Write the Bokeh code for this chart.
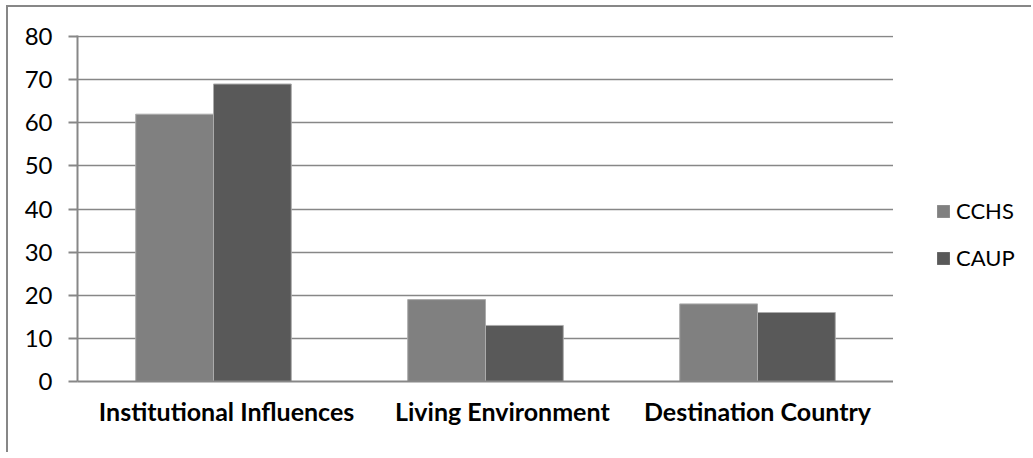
from bokeh.plotting import figure
from bokeh.layouts import row
from bokeh.models import Range1d, Legend, LegendItem, FixedTicker, ColumnDataSource
from bokeh.transform import dodge
from bokeh.embed import file_html
from bokeh.resources import INLINE

# Share of responses per influence category, by school
categories = ["Institutional Influences", "Living Environment", "Destination Country"]
cchs = [62, 19, 18]
caup = [69, 13, 16]
series_names = ["CCHS", "CAUP"]
series_colors = ["#808080", "#595959"]
y_ticks = [0, 10, 20, 30, 40, 50, 60, 70, 80]

FONT = "Lato"
GRID = "#878787"
EDGE = "#ababab"

# one unit-wide slot per category, bars centred in their slot
slots = [i + 0.5 for i in range(len(categories))]
source = ColumnDataSource(dict(slot=slots, cat=categories, cchs=cchs, caup=caup))

H = 445

p = figure(
    width=885, height=H,
    x_range=Range1d(0, len(categories)),
    y_range=Range1d(0, 80.25),
    output_backend="svg", toolbar_location=None,
    min_border_left=69, min_border_right=0,
    min_border_top=28, min_border_bottom=H - 374,
)
p.outline_line_color = None
p.background_fill_color = "white"
p.border_fill_color = "white"

bar_w = 0.286
p.vbar(x=dodge("slot", -bar_w / 2), top="cchs", width=bar_w,
       source=source, fill_color=series_colors[0], line_color=EDGE, line_width=1)
p.vbar(x=dodge("slot", bar_w / 2), top="caup", width=bar_w,
       source=source, fill_color=series_colors[1], line_color=EDGE, line_width=1)

# y axis
ya = p.yaxis[0]
ya.ticker = FixedTicker(ticks=y_ticks)
ya.axis_line_color = GRID
ya.axis_line_width = 2
ya.major_tick_line_color = GRID
ya.major_tick_line_width = 2
ya.major_tick_out = 9
ya.major_tick_in = 0
ya.minor_tick_line_color = None
ya.major_label_standoff = 16
ya.major_label_text_font = FONT
ya.major_label_text_font_size = "24px"
ya.major_label_text_color = "black"

# category axis: label positions within each slot
label_pos = [0.548, 1.562, 2.5]
xa = p.xaxis[0]
xa.ticker = FixedTicker(ticks=label_pos)
xa.major_label_overrides = {pos: name for pos, name in zip(label_pos, categories)}
xa.axis_line_color = GRID
xa.axis_line_width = 2
xa.major_tick_line_color = None
xa.minor_tick_line_color = None
xa.major_tick_out = 0
xa.major_label_standoff = 14
xa.major_label_text_font = FONT
xa.major_label_text_font_style = "bold"
xa.major_label_text_font_size = "25px"
xa.major_label_text_color = "black"

p.xgrid.grid_line_color = None
p.ygrid.ticker = FixedTicker(ticks=y_ticks)
p.ygrid.grid_line_color = GRID
p.ygrid.grid_line_width = 1.5

# legend strip to the right of the plot
leg = figure(
    width=138, height=H,
    x_range=Range1d(0, 1), y_range=Range1d(0, 1),
    output_backend="svg", toolbar_location=None,
    min_border=0,
)
leg.axis.visible = False
leg.grid.visible = False
leg.outline_line_color = None
leg.background_fill_color = "white"
leg.border_fill_color = "white"
# swatch renderers sit outside the strip's visible range; only their legend boxes show
swatches = [leg.vbar(x=[5], top=[5], width=1, fill_color=c, line_color=None)
            for c in series_colors]

legend = Legend(
    items=[LegendItem(label=n, renderers=[r]) for n, r in zip(series_names, swatches)],
    location=(42, 110),
    glyph_width=16, glyph_height=16,
    label_text_font=FONT, label_text_font_size="22px", label_text_color="black",
    label_standoff=5, spacing=20, padding=0, margin=0,
    border_line_color=None, background_fill_alpha=0,
)
leg.add_layout(legend, "center")

# grey frame on the top and left edges of the chart area
layout = row(p, leg, spacing=0, margin=(5, 0, 0, 6),
             styles={"border-left": f"2px solid {GRID}", "border-top": f"2px solid {GRID}"})

open("out.html", "w").write(file_html(layout, INLINE))
